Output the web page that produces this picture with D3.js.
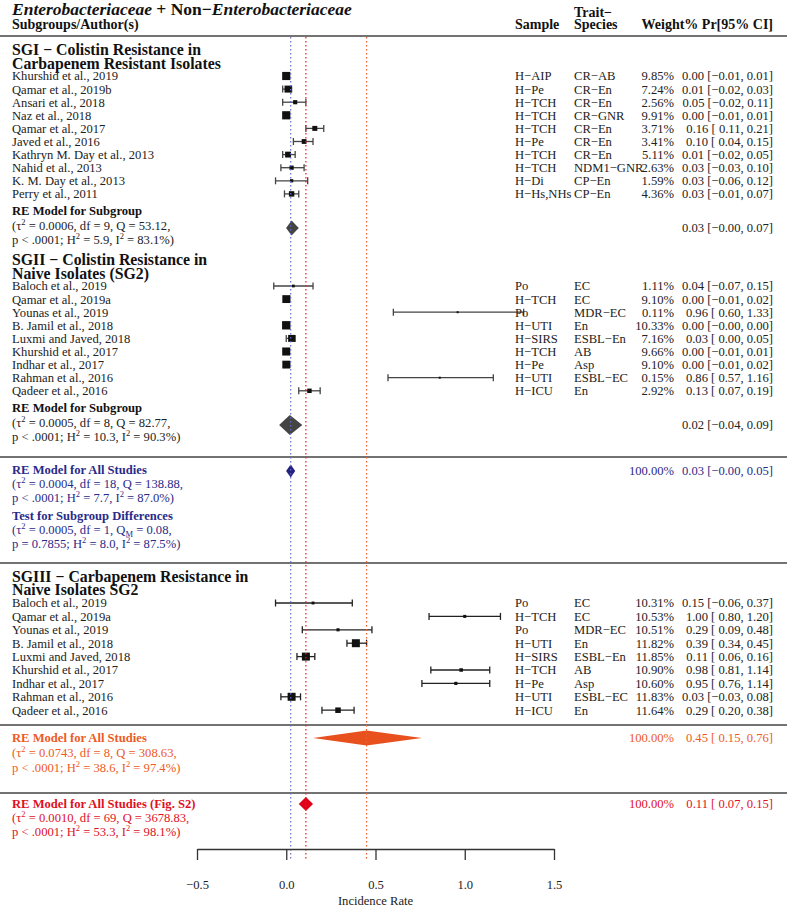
<!DOCTYPE html>
<html><head><meta charset="utf-8">
<script src="https://cdn.jsdelivr.net/npm/d3@7"></script>
<style>
body{margin:0;background:#fff}
svg{display:block}
text{font-family:"Liberation Serif","Times New Roman",Times,serif}
</style>
</head><body><svg id="c" width="787" height="908"></svg>
<script>
// ---------------- DATA ----------------
const xTicks = [-0.5, 0, 0.5, 1, 1.5];

const sg1Authors = ["Khurshid et al., 2019","Qamar et al., 2019b","Ansari et al., 2018","Naz et al., 2018","Qamar et al., 2017","Javed et al., 2016","Kathryn M. Day et al., 2013","Nahid et al., 2013","K. M. Day et al., 2013","Perry et al., 2011"];
const sg1Sample  = ["H−AIP","H−Pe","H−TCH","H−TCH","H−TCH","H−Pe","H−TCH","H−TCH","H−Di","H−Hs,NHs"];
const sg1Species = ["CR−AB","CR−En","CR−En","CR−GNR","CR−En","CR−En","CR−En","NDM1−GNR","CP−En","CP−En"];
const sg1Weight  = [9.85,7.24,2.56,9.91,3.71,3.41,5.11,2.63,1.59,4.36];
const sg1Est     = [0.00,0.01,0.05,0.00,0.16,0.10,0.01,0.03,0.03,0.03];
const sg1Lo      = [-0.01,-0.02,-0.02,-0.01,0.11,0.04,-0.02,-0.03,-0.06,-0.01];
const sg1Hi      = [0.01,0.03,0.11,0.01,0.21,0.15,0.05,0.10,0.12,0.07];

const sg2Authors = ["Baloch et al., 2019","Qamar et al., 2019a","Younas et al., 2019","B. Jamil et al., 2018","Luxmi and Javed, 2018","Khurshid et al., 2017","Indhar et al., 2017","Rahman et al., 2016","Qadeer et al., 2016"];
const sg2Sample  = ["Po","H−TCH","Po","H−UTI","H−SIRS","H−TCH","H−Pe","H−UTI","H−ICU"];
const sg2Species = ["EC","EC","MDR−EC","En","ESBL−En","AB","Asp","ESBL−EC","En"];
const sg2Weight  = [1.11,9.10,0.11,10.33,7.16,9.66,9.10,0.15,2.92];
const sg2Est     = [0.04,0.00,0.96,0.00,0.03,0.00,0.00,0.86,0.13];
const sg2Lo      = [-0.07,-0.01,0.60,-0.001,0.00,-0.01,-0.01,0.57,0.07];
const sg2Hi      = [0.15,0.02,1.33,0.00,0.05,0.01,0.02,1.16,0.19];

const sg3Authors = ["Baloch et al., 2019","Qamar et al., 2019a","Younas et al., 2019","B. Jamil et al., 2018","Luxmi and Javed, 2018","Khurshid et al., 2017","Indhar et al., 2017","Rahman et al., 2016","Qadeer et al., 2016"];
const sg3Sample  = ["Po","H−TCH","Po","H−UTI","H−SIRS","H−TCH","H−Pe","H−UTI","H−ICU"];
const sg3Species = ["EC","EC","MDR−EC","En","ESBL−En","AB","Asp","ESBL−EC","En"];
const sg3Weight  = [10.31,10.53,10.51,11.82,11.85,10.90,10.60,11.83,11.64];
const sg3Est     = [0.15,1.00,0.29,0.39,0.11,0.98,0.95,0.03,0.29];
const sg3Lo      = [-0.06,0.80,0.09,0.34,0.06,0.81,0.76,-0.03,0.20];
const sg3Hi      = [0.37,1.20,0.48,0.45,0.16,1.14,1.14,0.08,0.38];

const sectionTitles = [
  ["SGI − Colistin Resistance in","Carbapenem Resistant Isolates"],
  ["SGII − Colistin Resistance in","Naive Isolates (SG2)"],
  ["SGIII − Carbapenem Resistance in","Naive Isolates SG2"]
];

const summaryLabels = ["RE Model for Subgroup","RE Model for Subgroup","RE Model for All Studies","RE Model for All Studies","RE Model for All Studies (Fig. S2)"];
const summaryStats = [
  ["(τ^2 = 0.0006, df = 9, Q = 53.12,","p < .0001; H^2 = 5.9, I^2 = 83.1%)"],
  ["(τ^2 = 0.0005, df = 8, Q = 82.77,","p < .0001; H^2 = 10.3, I^2 = 90.3%)"],
  ["(τ^2 = 0.0004, df = 18, Q = 138.88,","p < .0001; H^2 = 7.7, I^2 = 87.0%)"],
  ["(τ^2 = 0.0743, df = 8, Q = 308.63,","p < .0001; H^2 = 38.6, I^2 = 97.4%)"],
  ["(τ^2 = 0.0010, df = 69, Q = 3678.83,","p < .0001; H^2 = 53.3, I^2 = 98.1%)"]
];
const summaryWeight = [null,null,100,100,100];
const summaryEst = [0.03,0.02,0.025,0.45,0.11];
const summaryLo  = [-0.001,-0.04,-0.001,0.15,0.07];
const summaryHi  = [0.07,0.09,0.05,0.76,0.15];

const testLabel = "Test for Subgroup Differences";
const testStats = ["(τ^2 = 0.0005, df = 1, Q_M = 0.08,","p = 0.7855; H^2 = 8.0, I^2 = 87.5%)"];

const headerCols = ["Sample","Trait−","Species","Weight% Pr[95% CI]"];
const axisTitle = "Incidence Rate";

// ---------------- LAYOUT ----------------
const svg = d3.select("#c");
svg.append("rect").attr("width",787).attr("height",908).attr("fill","#fff");
const x = d3.scaleLinear().domain([-0.5,1.5]).range([197,554]);
const LEFT = 12, COL_SAMPLE = 515, COL_SPECIES = 574, COL_W = 674, COL_EST = 773;
const FS = 12.6;

function sgn(v){ return v < 0 ? "−" + Math.abs(v).toFixed(2) : " " + v.toFixed(2); }
function ciText(e,l,h){ return e.toFixed(2) + " [" + sgn(l) + ", " + h.toFixed(2) + "]"; }

function txt(px, py, s, o={}){
  const t = svg.append("text").attr("x",px).attr("y",py).attr("dy","0.35em")
    .attr("font-size",o.size||FS).attr("fill",o.color||"#222")
    .attr("font-weight",o.bold?"bold":"normal")
    .attr("text-anchor",o.anchor||"start")
    .style("white-space","pre");
  if (o.italic) t.attr("font-style","italic");
  t.text(s);
  return t;
}
// text with ^x superscripts and _x subscripts
function richTxt(px, py, s, o={}){
  const t = svg.append("text").attr("x",px).attr("y",py + FS*0.35)
    .attr("font-size",o.size||FS).attr("fill",o.color||"#222")
    .style("white-space","pre");
  const parts = s.split(/(\^\w|_\w)/).filter(p=>p);
  let pending = 0;
  parts.forEach(p=>{
    if (p[0]==="^"){
      t.append("tspan").attr("font-size",8.5).attr("dy",pending-5).text(p.slice(1));
      pending = 5;
    } else if (p[0]==="_"){
      t.append("tspan").attr("font-size",8.5).attr("dy",pending+3).text(p.slice(1));
      pending = -3;
    } else {
      const ts = t.append("tspan").text(p);
      if (pending) ts.attr("dy",pending);
      pending = 0;
    }
  });
  return t;
}

// Title
const title = svg.append("text").attr("x",LEFT).attr("y",15).attr("font-size",17.5).attr("font-weight","bold").attr("fill","#111");
title.append("tspan").attr("font-style","italic").text("Enterobacteriaceae");
title.append("tspan").text(" + Non−");
title.append("tspan").attr("font-style","italic").text("Enterobacteriaceae");

// Header
const HS = 14;
txt(LEFT, 24, "Subgroups/Author(s)", {bold:true, color:"#111", size:HS});
txt(COL_SAMPLE, 24, headerCols[0], {bold:true, color:"#111", size:HS});
txt(COL_SPECIES, 12, headerCols[1], {bold:true, color:"#111", size:HS});
txt(COL_SPECIES, 24.5, headerCols[2], {bold:true, color:"#111", size:HS});
txt(COL_EST, 24, headerCols[3], {bold:true, color:"#111", anchor:"end", size:HS});

// separators
[36, 457, 563, 725, 793].forEach(yy=>{
  svg.append("line").attr("x1",0).attr("x2",787).attr("y1",yy).attr("y2",yy)
    .attr("stroke","#444").attr("stroke-width",1.5);
});

// Groups
const groups = [
  {authors:sg1Authors,sample:sg1Sample,species:sg1Species,weight:sg1Weight,est:sg1Est,lo:sg1Lo,hi:sg1Hi,titleY:[49.5,63],y0:76,step:13.1,mode:"w",ci:"#444"},
  {authors:sg2Authors,sample:sg2Sample,species:sg2Species,weight:sg2Weight,est:sg2Est,lo:sg2Lo,hi:sg2Hi,titleY:[259,273],y0:286,step:13.1,mode:"w",ci:"#444"},
  {authors:sg3Authors,sample:sg3Sample,species:sg3Species,weight:sg3Weight,est:sg3Est,lo:sg3Lo,hi:sg3Hi,titleY:[576,589.5],y0:603,step:13.4,mode:"v",ci:"#222"}
];

const markG = svg.append("g");
groups.forEach((g,gi)=>{
  txt(LEFT, g.titleY[0], sectionTitles[gi][0], {bold:true, size:15.8, color:"#111"});
  txt(LEFT, g.titleY[1], sectionTitles[gi][1], {bold:true, size:15.8, color:"#111"});
  g.authors.forEach((a,i)=>{
    const yy = g.y0 + i*g.step;
    txt(LEFT, yy, a);
    txt(COL_SAMPLE, yy, g.sample[i]);
    txt(COL_SPECIES, yy, g.species[i]);
    txt(COL_W, yy, g.weight[i].toFixed(2)+"%", {anchor:"end"});
    txt(COL_EST, yy, ciText(g.est[i],g.lo[i],g.hi[i]), {anchor:"end"});
    // CI
    const x1 = x(g.lo[i]), x2 = x(g.hi[i]);
    markG.append("line").attr("x1",x1).attr("x2",x2).attr("y1",yy).attr("y2",yy).attr("stroke",g.ci).attr("stroke-width",1.3);
    [x1,x2].forEach(xx=> markG.append("line").attr("x1",xx).attr("x2",xx).attr("y1",yy-3.5).attr("y2",yy+3.5).attr("stroke",g.ci).attr("stroke-width",1.3));
    let s;
    if (g.mode==="w") s = Math.max(2, 2.6*Math.sqrt(g.weight[i]));
    else { const hw = (g.hi[i]-g.lo[i])/2; s = Math.max(2.5, Math.min(8, 0.908/Math.pow(hw,0.75))); }
    markG.append("rect").attr("x",x(g.est[i])-s/2).attr("y",yy-s/2).attr("width",s).attr("height",s).attr("fill","#111");
  });
});

// Summaries
const sumCfg = [
  {y:[211,225.5,239.5], dy:228, h:7.5, fill:"#444", lab:"#111", stat:"#222"},
  {y:[408,423,437], dy:425, h:10, fill:"#444", lab:"#111", stat:"#222"},
  {y:[470,484,498], dy:471, h:6.5, fill:"#23237f", lab:"#2a2a88", stat:"#2a2a88"},
  {y:[738,753,767.5], dy:738, h:7.5, fill:"#e8501e", lab:"#ee5a24", stat:"#ee5a24"},
  {y:[804,818,832], dy:804, h:7, fill:"#e0001a", lab:"#e0101e", stat:"#e0101e"}
];
summaryLabels.forEach((lab,i)=>{
  const c = sumCfg[i];
  txt(LEFT, c.y[0], lab, {bold:true, color:c.lab});
  richTxt(LEFT, c.y[1], summaryStats[i][0], {color:c.stat});
  richTxt(LEFT, c.y[2], summaryStats[i][1], {color:c.stat});
  const pts = [[x(summaryLo[i]),c.dy],[x(summaryEst[i]),c.dy-c.h],[x(summaryHi[i]),c.dy],[x(summaryEst[i]),c.dy+c.h]];
  markG.append("polygon").attr("points",pts.map(p=>p.join(",")).join(" ")).attr("fill",c.fill);
  if (summaryWeight[i]!==null) txt(COL_W, c.dy, summaryWeight[i].toFixed(2)+"%", {anchor:"end", color:c.stat});
  txt(COL_EST, c.dy, ciText(summaryEst[i],summaryLo[i],summaryHi[i]), {anchor:"end", color:c.stat});
});
// subgroup test
txt(LEFT, 516, testLabel, {bold:true, color:"#2a2a88"});
richTxt(LEFT, 530, testStats[0], {color:"#2a2a88"});
richTxt(LEFT, 544, testStats[1], {color:"#2a2a88"});

// reference dotted lines
const refLines = [
  {v:summaryEst[2], c:"#6a6ad0"},
  {v:summaryEst[4], c:"#ee1c1c"},
  {v:summaryEst[3], c:"#f0602c"}
];
refLines.forEach(r=>{
  svg.append("line").attr("x1",x(r.v)).attr("x2",x(r.v)).attr("y1",37).attr("y2",860)
    .attr("stroke",r.c).attr("stroke-width",1.2).attr("stroke-dasharray","1.5 2.5");
});

// axis
const axis = d3.axisBottom(x).tickValues(xTicks).tickFormat(d3.format(".1f"))
  .tickSize(11).tickSizeOuter(0).tickPadding(20);
const ag = svg.append("g").attr("transform","translate(0,849)").call(axis);
ag.attr("font-family",null).attr("font-size",null);
ag.select(".domain").attr("stroke","#333").attr("stroke-width",1.3);
ag.selectAll(".tick line").attr("stroke","#333").attr("stroke-width",1.3);
ag.selectAll(".tick text").attr("font-size",FS).attr("fill","#222")
  .style("font-family",'"Liberation Serif","Times New Roman",Times,serif');
txt(x(0.5), 901, axisTitle, {anchor:"middle"});
</script>
</body></html>
